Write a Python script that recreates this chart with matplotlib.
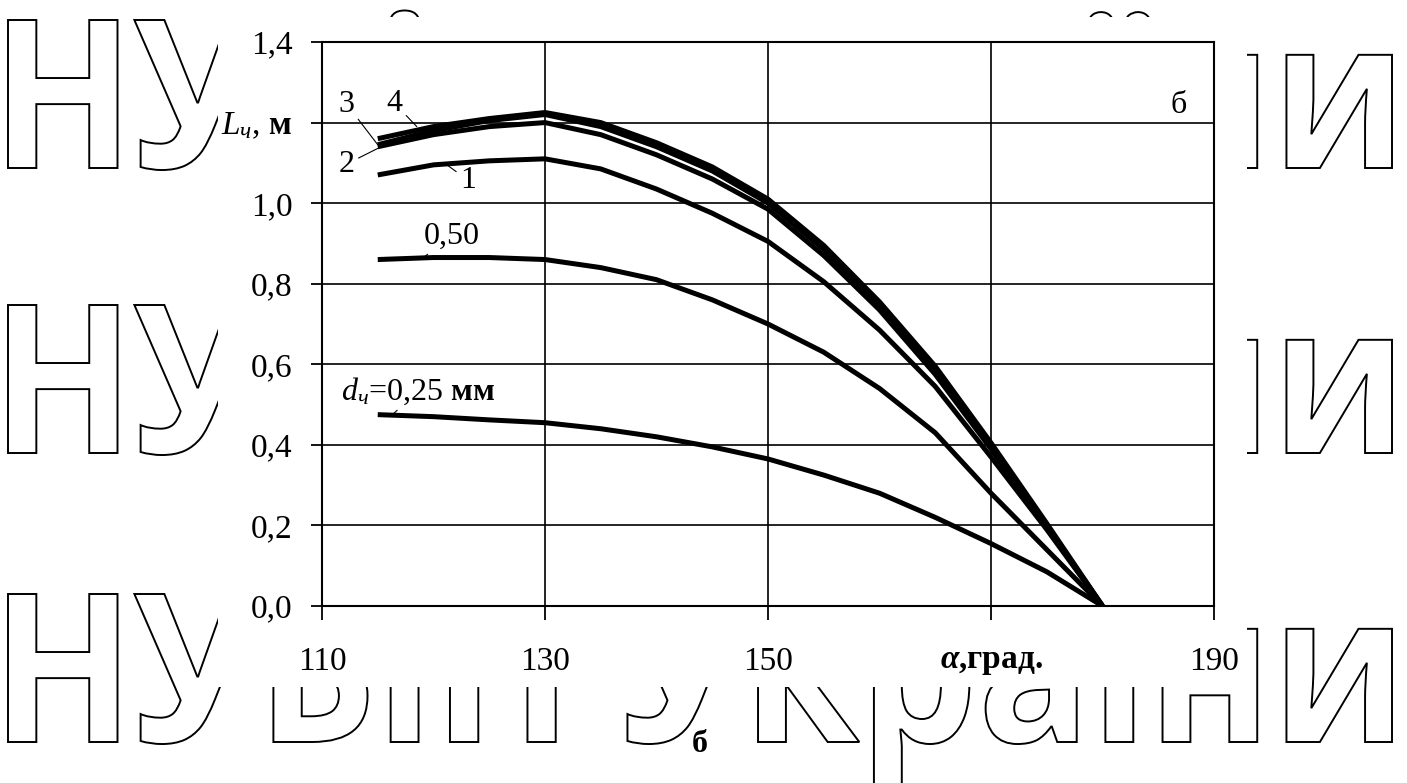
import matplotlib
matplotlib.use('Agg')
import matplotlib.pyplot as plt
from matplotlib.textpath import TextPath
from matplotlib.patches import PathPatch, Rectangle
from matplotlib.font_manager import FontProperties
from matplotlib.transforms import Affine2D

plt.rcParams['font.family'] = ['Liberation Serif', 'DejaVu Serif']
plt.rcParams['mathtext.fontset'] = 'custom'
plt.rcParams['mathtext.rm'] = 'Liberation Serif'
plt.rcParams['mathtext.it'] = 'Liberation Serif:italic'
plt.rcParams['mathtext.bf'] = 'Liberation Serif:bold'
plt.rcParams['mathtext.bfit'] = 'Liberation Serif:italic:bold'

# кут, град.
alpha = [115, 120, 125, 130, 135, 140, 145, 150, 155, 160, 165, 170, 175, 180]
# довжина L_ч, м для різних діаметрів
L_025 = [0.475, 0.470, 0.462, 0.455, 0.440, 0.420, 0.395, 0.365, 0.325, 0.280, 0.220, 0.155, 0.085, 0.0]
L_050 = [0.860, 0.865, 0.865, 0.860, 0.840, 0.810, 0.760, 0.700, 0.630, 0.540, 0.430, 0.280, 0.140, 0.0]
L_1 = [1.070, 1.095, 1.105, 1.110, 1.085, 1.035, 0.975, 0.905, 0.805, 0.685, 0.545, 0.370, 0.190, 0.0]
L_2 = [1.140, 1.170, 1.190, 1.200, 1.170, 1.120, 1.060, 0.985, 0.870, 0.735, 0.575, 0.390, 0.195, 0.0]
L_3 = [1.145, 1.180, 1.205, 1.220, 1.190, 1.140, 1.080, 1.000, 0.885, 0.745, 0.585, 0.395, 0.200, 0.0]
L_4 = [1.160, 1.190, 1.210, 1.225, 1.200, 1.150, 1.090, 1.010, 0.895, 0.755, 0.595, 0.405, 0.205, 0.0]

xticks = [110, 130, 150, 170, 190]
xlabels = ['110', '130', '150', r'$\mathbfit{\alpha}$,град.', '190']
yticks = [0.0, 0.2, 0.4, 0.6, 0.8, 1.0, 1.2, 1.4]
ylabels = ['0,0', '0,2', '0,4', '0,6', '0,8', '1,0', r'$L_{ч}$, $\mathbf{м}$', '1,4']

W, H = 1407, 783
fig = plt.figure(figsize=(W / 100, H / 100), dpi=100)

# водяний знак
wm_text = 'НУБіП України'
wm_fp = FontProperties(family='Open Sans', weight='bold')
wm_path = TextPath((0, 0), wm_text, size=100, prop=wm_fp)
cap_h = TextPath((0, 0), 'Н', size=100, prop=wm_fp).get_extents().height
ext = wm_path.get_extents()
sx = 1384 / ext.width
sy = 148 / cap_h
for base in [168, 453, 742]:
    tr = Affine2D().translate(-ext.x0, 0).scale(sx, sy).translate(8, H - base)
    fig.add_artist(PathPatch(wm_path, transform=tr, facecolor='white',
                             edgecolor='black', lw=1.4, zorder=-2))
fig.add_artist(Rectangle((218 / W, 1 - 687 / H), (1247 - 218) / W, (687 - 17) / H,
                         transform=fig.transFigure, facecolor='white',
                         edgecolor='none', zorder=-1))

ax = fig.add_axes([322 / W, 1 - 606 / H, (1214 - 322) / W, (606 - 42) / H])
ax.set_facecolor('white')

for vals in [L_025, L_050, L_1, L_2, L_3, L_4]:
    ax.plot(alpha, vals, color='black', lw=3.6, solid_capstyle='butt', zorder=3)

ax.set_xlim(110, 190)
ax.set_ylim(0, 1.4)
ax.set_xticks(xticks)
ax.set_xticklabels(xlabels)
ax.set_yticks(yticks)
ax.set_yticklabels(ylabels)
ax.get_xticklabels()[3].set_fontweight('bold')
ax.grid(True, color='black', lw=1.2)
for s in ax.spines.values():
    s.set_linewidth(1.5)
ax.tick_params(axis='x', direction='out', length=10, width=1.3, pad=19, labelsize=24)
ax.tick_params(axis='y', direction='out', length=8, width=1.3, pad=13, labelsize=24)

arrow = dict(arrowstyle='-', lw=0.8, color='black', shrinkA=1, shrinkB=0)
fs = 23
ax.annotate('3', xy=(alpha[0], L_3[0]), xytext=(112.2, 1.246), fontsize=fs,
            ha='center', va='center', arrowprops=arrow)
ax.annotate('4', xy=(118.5, 1.19), xytext=(116.5, 1.248), fontsize=fs,
            ha='center', va='center', arrowprops=arrow)
ax.annotate('2', xy=(alpha[0] + 0.3, L_2[0]), xytext=(112.2, 1.097), fontsize=fs,
            ha='center', va='center', arrowprops=arrow)
ax.annotate('1', xy=(121.1, 1.097), xytext=(123.1, 1.057), fontsize=fs,
            ha='center', va='center', arrowprops=arrow)
ax.annotate('0,50', xy=(119.0, 0.863), xytext=(121.6, 0.918), fontsize=fs,
            ha='center', va='center', arrowprops=arrow)
ax.annotate(r'$d_{ч}$=0,25 $\mathbf{мм}$', xy=(116.4, 0.477), xytext=(111.7, 0.534),
            fontsize=fs, ha='left', va='center', arrowprops=arrow)
ax.text(186.8, 1.243, 'б', fontsize=fs, ha='center', va='center')

fig.text(700 / W, 1 - 745 / H, 'б', fontsize=23, fontweight='bold',
         ha='center', va='center')

fig.savefig('out.png', dpi=100)
